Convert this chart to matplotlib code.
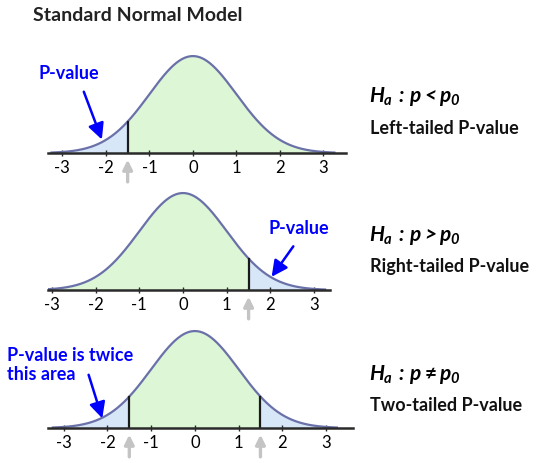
import numpy as np
import matplotlib
matplotlib.use("Agg")
import matplotlib.pyplot as plt

plt.rcParams['font.family'] = ['Lato', 'DejaVu Sans']
plt.rcParams['mathtext.fontset'] = 'custom'
plt.rcParams['mathtext.it'] = 'Lato:italic:bold'
plt.rcParams['mathtext.rm'] = 'Lato:italic:bold'
plt.rcParams['mathtext.bf'] = 'Lato:bold'

# data
tick_vals = [-3, -2, -1, 0, 1, 2, 3]
cutoffs_left = [-1.5, None, -1.5]
cutoffs_right = [None, 1.5, 1.5]
hyp_labels = [r'$H_a\,{:}\,p < p_0$',
              r'$H_a\,{:}\,p > p_0$',
              r'$H_a\,{:}\,p \mathbf{\neq} p_0$']
tail_labels = ['Left-tailed P-value', 'Right-tailed P-value', 'Two-tailed P-value']
pval_labels = ['P-value', 'P-value', 'P-value is twice\nthis area']

# layout (figure fractions / data units)
rects = [[0.0889, 0.668, 0.552, 0.22],
         [0.0889, 0.3728, 0.522, 0.22],
         [0.0889, 0.0754, 0.565, 0.22]]
xlims = [(-3.33, 3.52), (-3.09, 3.36), (-3.36, 3.62)]
label_pos = [(-2.85, 0.333, 'center'), (2.65, 0.259, 'center'), (-4.3, 0.263, 'left')]
arrow_start = [(-2.53, 0.263), (2.56, 0.189), (-2.45, 0.23)]
arrow_tip = [(-2.07, 0.045), (1.99, 0.045), (-2.1, 0.029)]
hyp_y = [0.791, 0.4935, 0.192]
tail_y = [0.724, 0.4246, 0.127]

curve_col = '#6a71a9'
green = '#dcf6d6'
blue_fill = '#d8e7f8'

fig = plt.figure(figsize=(5.4, 4.64), dpi=100)
fig.text(0.061, 0.967, 'Standard Normal Model', fontsize=14, fontweight='bold',
         color='#222222', va='center', ha='left')

z = np.linspace(-3.25, 3.25, 400)
pdf = np.exp(-z**2 / 2) / np.sqrt(2 * np.pi)

for i in range(3):
    ax = fig.add_axes(rects[i])
    ax.set_xlim(*xlims[i])
    ax.set_ylim(0, 0.42)
    lo = cutoffs_left[i] if cutoffs_left[i] is not None else -10
    hi = cutoffs_right[i] if cutoffs_right[i] is not None else 10
    mid = (z >= lo) & (z <= hi)
    ax.fill_between(z, 0, pdf, where=mid, color=green, lw=0, interpolate=True)
    ax.fill_between(z, 0, pdf, where=~mid, color=blue_fill, lw=0, interpolate=True)
    ax.plot(z, pdf, color=curve_col, lw=1.6)
    for c in (cutoffs_left[i], cutoffs_right[i]):
        if c is None:
            continue
        h = np.exp(-c**2 / 2) / np.sqrt(2 * np.pi)
        ax.plot([c, c], [0, h], color='#1a1a1a', lw=1.6)
        ax.annotate('', xy=(c, -0.016), xytext=(c, -0.13),
                    arrowprops=dict(arrowstyle='-|>', color='#c4c4c4', lw=2.4,
                                    mutation_scale=14),
                    annotation_clip=False)
    for s in ('top', 'left', 'right'):
        ax.spines[s].set_visible(False)
    ax.spines['bottom'].set_color('#2a2a2a')
    ax.spines['bottom'].set_linewidth(1.8)
    ax.set_yticks([])
    ax.set_xticks(tick_vals)
    ax.set_xticklabels([str(t) for t in tick_vals])
    ax.tick_params(axis='x', direction='inout', length=5, width=1, color='#2a2a2a',
                   labelsize=12, pad=2)
    ax.patch.set_alpha(0)
    lx, ly, ha = label_pos[i]
    ax.text(lx, ly, pval_labels[i], color='#0000ff', fontsize=13, fontweight='bold',
            ha=ha, va='center', linespacing=1.1, clip_on=False)
    ax.annotate('', xy=arrow_tip[i], xytext=arrow_start[i],
                arrowprops=dict(arrowstyle='-|>', color='#0000ff', lw=1.8,
                                mutation_scale=24),
                annotation_clip=False)

    fig.text(0.683, hyp_y[i], hyp_labels[i], fontsize=15, color='black', va='center')
    fig.text(0.685, tail_y[i], tail_labels[i], fontsize=13, fontweight='bold',
             color='#111111', va='center')

fig.savefig('out.png', dpi=100)
